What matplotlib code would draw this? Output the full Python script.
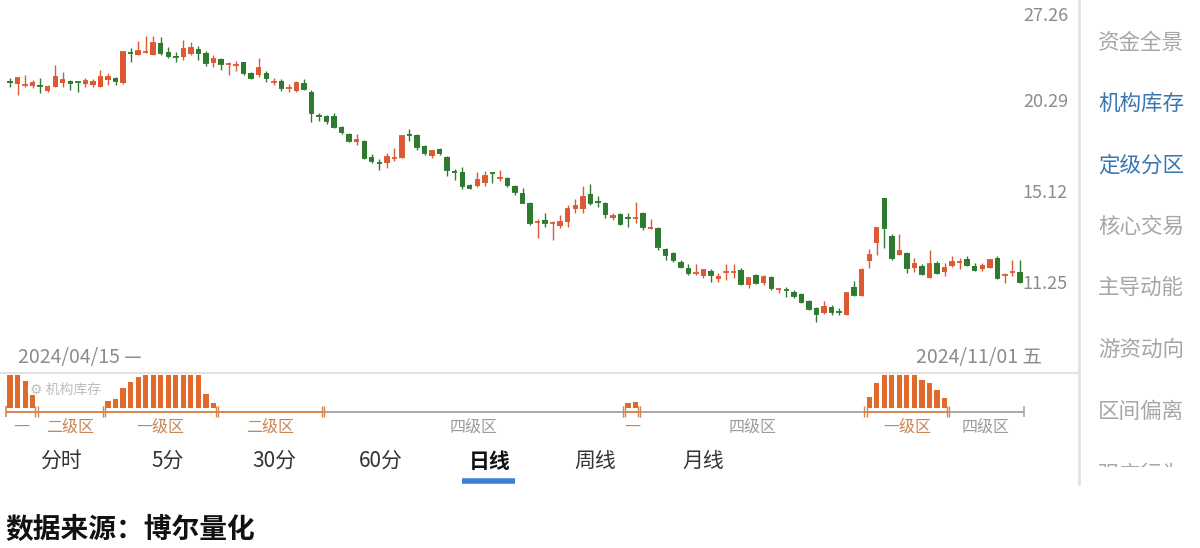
import matplotlib
matplotlib.use("Agg")
import matplotlib.pyplot as plt
from matplotlib.transforms import Bbox, TransformedBbox, blended_transform_factory, offset_copy

plt.rcParams['font.family'] = ['Noto Sans CJK SC', 'DejaVu Sans']

# 日线 2024/04/15 - 2024/11/01
opens = [21.74, 21.53, 21.43, 21.39, 21.43, 21.04, 21.32, 21.60, 21.74, 21.67,
         21.53, 21.46, 21.32, 21.81, 21.96, 21.60, 23.85, 23.66, 23.85, 23.66,
         24.59, 23.89, 23.54, 23.50, 23.73, 24.12, 23.81, 23.05, 23.35, 22.94,
         22.86, 23.12, 22.31, 22.17, 22.31, 21.63, 21.74, 21.22, 21.04, 21.60,
         20.98, 19.45, 19.41, 19.41, 18.72, 18.31, 17.84, 17.89, 16.99, 16.69,
         16.66, 16.90, 16.93, 18.28, 18.25, 17.61, 17.04, 17.44, 16.99, 16.21,
         16.19, 15.52, 15.47, 15.62, 16.16, 15.85, 15.88, 15.47, 15.12, 14.63,
         13.74, 13.85, 13.70, 13.58, 13.76, 14.35, 14.35, 15.07, 14.70, 14.63,
         13.94, 14.12, 13.96, 13.92, 14.17, 13.47, 13.49, 12.60, 12.44, 12.08,
         11.85, 11.64, 11.55, 11.73, 11.44, 11.68, 11.68, 11.77, 11.21, 11.59,
         11.29, 11.51, 11.05, 11.05, 10.96, 10.89, 10.65, 10.41, 10.24, 10.44,
         10.29, 10.17, 11.14, 10.82, 12.12, 12.85, 14.87, 13.14, 12.36, 12.44,
         11.85, 11.93, 11.47, 12.04, 11.70, 11.93, 12.06, 12.20, 11.93, 11.81,
         11.85, 12.24, 11.57, 11.68, 11.70]
highs = [21.96, 21.96, 22.17, 21.81, 21.96, 21.46, 22.90, 22.39, 21.81, 21.74,
         21.96, 21.88, 22.53, 22.31, 22.03, 23.89, 24.20, 24.75, 25.16, 25.16,
         25.08, 24.28, 23.89, 24.83, 24.67, 24.36, 23.96, 23.66, 23.43, 23.12,
         23.20, 23.12, 22.39, 23.43, 22.46, 21.96, 21.88, 21.53, 21.74, 21.88,
         21.11, 19.60, 19.48, 19.60, 18.79, 18.36, 18.31, 17.95, 17.16, 16.88,
         17.21, 17.49, 18.25, 18.60, 18.31, 17.67, 17.38, 17.49, 17.04, 16.34,
         16.45, 15.57, 16.19, 16.24, 16.19, 16.29, 15.93, 15.52, 15.37, 14.68,
         13.90, 14.17, 13.81, 14.08, 14.54, 14.82, 15.47, 15.57, 14.97, 14.68,
         14.17, 14.17, 14.17, 14.68, 14.21, 13.90, 13.54, 12.64, 12.48, 12.16,
         12.00, 12.00, 11.81, 11.81, 11.66, 12.00, 12.00, 11.85, 11.51, 11.62,
         11.59, 11.55, 11.10, 11.14, 11.03, 10.92, 10.68, 10.44, 10.65, 10.51,
         10.41, 10.92, 11.36, 11.85, 12.60, 13.49, 14.87, 13.23, 13.23, 12.48,
         12.24, 12.00, 12.56, 12.12, 12.04, 12.32, 12.24, 12.32, 12.04, 12.04,
         12.20, 12.32, 11.66, 12.16, 12.16]
lows = [21.32, 20.78, 21.32, 21.25, 20.91, 20.98, 21.32, 21.32, 21.11, 20.98,
        21.32, 21.32, 21.32, 21.46, 21.46, 21.53, 23.12, 23.66, 23.81, 23.66,
        23.66, 23.43, 23.12, 23.27, 23.66, 23.27, 22.83, 22.75, 22.53, 22.17,
        22.46, 22.17, 21.88, 22.03, 21.67, 21.46, 21.04, 20.98, 20.98, 21.11,
        19.04, 19.10, 18.91, 18.66, 18.31, 17.84, 17.67, 16.88, 16.66, 16.29,
        16.40, 16.77, 16.93, 17.89, 17.38, 17.10, 16.93, 17.10, 15.98, 15.77,
        15.31, 15.31, 15.42, 15.47, 15.62, 15.72, 15.42, 15.02, 14.63, 13.63,
        13.06, 13.54, 12.97, 13.49, 13.54, 14.17, 14.17, 14.54, 14.44, 13.94,
        13.85, 13.63, 13.54, 13.72, 13.40, 13.45, 12.56, 12.16, 12.08, 11.85,
        11.59, 11.59, 11.47, 11.33, 11.33, 11.40, 11.47, 11.21, 11.10, 11.25,
        11.21, 11.03, 10.92, 10.78, 10.75, 10.58, 10.34, 9.94, 10.21, 10.17,
        10.17, 10.17, 10.82, 10.82, 11.85, 12.36, 12.64, 12.16, 12.36, 11.66,
        11.70, 11.59, 11.47, 11.62, 11.55, 11.89, 11.81, 11.93, 11.73, 11.73,
        11.85, 11.44, 11.29, 11.55, 11.29]
closes = [21.67, 21.96, 21.46, 21.60, 21.39, 21.32, 22.03, 21.81, 21.60, 21.63,
          21.74, 21.67, 22.03, 22.03, 21.74, 23.89, 23.81, 23.96, 23.89, 24.59,
          23.81, 23.58, 23.50, 24.12, 24.20, 23.81, 23.05, 23.35, 22.97, 22.97,
          22.90, 22.31, 21.96, 22.68, 21.96, 21.67, 21.25, 21.25, 21.60, 21.18,
          19.60, 19.41, 19.10, 18.72, 18.42, 17.89, 17.95, 16.93, 16.77, 16.66,
          16.99, 16.93, 18.19, 18.25, 17.55, 17.21, 17.32, 17.21, 16.29, 16.19,
          15.47, 15.37, 15.77, 15.98, 16.14, 15.88, 15.52, 15.16, 14.63, 13.72,
          13.76, 13.72, 13.72, 13.76, 14.35, 14.49, 14.92, 14.63, 14.68, 14.12,
          14.03, 13.67, 13.94, 13.94, 13.54, 13.49, 12.68, 12.36, 12.16, 11.89,
          11.66, 11.66, 11.77, 11.59, 11.51, 11.70, 11.70, 11.25, 11.47, 11.29,
          11.51, 11.10, 11.07, 11.03, 10.82, 10.61, 10.37, 10.21, 10.44, 10.27,
          10.27, 10.92, 10.85, 11.77, 12.36, 13.49, 13.49, 12.24, 12.52, 11.85,
          12.00, 11.62, 12.00, 11.66, 11.85, 12.08, 12.08, 11.97, 11.77, 11.93,
          12.16, 11.47, 11.59, 11.70, 11.33]

price_ticks = [27.26, 20.29, 15.12, 11.25]
start_label = '2024/04/15 —'
end_label = '2024/11/01 五'

# 机构库存 bars (first candle number of each run, then heights 0-100)
inv_start = [1, 14, 83, 115]
inv_values = [[100, 100, 81, 38],
              [20, 26, 59, 77, 92, 100, 100, 100, 100, 100, 100, 100, 100, 41, 15],
              [15, 18],
              [33, 74, 100, 100, 100, 100, 100, 85, 76, 54, 30]]

# 定级分区
zone_start = [1, 5, 14, 29, 43, 83, 85, 115, 126]
zone_end = [4, 13, 28, 42, 82, 84, 114, 125, 135]
zone_names = ['一', '二级区', '一级区', '二级区', '四级区', '一', '四级区', '一级区', '四级区']
zone_level = [1, 2, 1, 2, 4, 1, 4, 1, 4]

tabs = ['分时', '5分', '30分', '60分', '日线', '周线', '月线']
tab_x = [61, 168, 274, 381, 490, 595, 703]
active_tab = '日线'
menu = ['资金全景', '机构库存', '定级分区', '核心交易', '主导动能', '游资动向', '区间偏离', '强庄行为']
menu_y = [43, 104, 166, 227, 288, 350, 412, 475]
menu_active = ['机构库存', '定级分区']
source = '数据来源：博尔量化'

RED = '#dc5a33'
GREEN = '#2e7b30'
BAR = '#e0692b'
ZONE_ORANGE = '#d9844c'
ZONE_GRAY = '#a8a8a8'
LABEL_GRAY = '#8c8c8c'

W, H = 1200, 548
fig = plt.figure(figsize=(W / 100, H / 100), dpi=100)
fig.patch.set_facecolor('white')


def fx(px):
    return px / W


def fy(py):
    return 1 - py / H


n = len(closes)
idx = list(range(1, n + 1))
pitch = 7.537
x_left = 1 - 10 / pitch
xlim = (x_left, x_left + 1078 / pitch)

# ---- K线 ----
ax = fig.add_axes([0, fy(372), fx(1078), 372 / H])
ax.set_yscale('log')
r = (price_ticks[0] / price_ticks[-1]) ** (1 / 3)
row = 91
ax.set_ylim(price_ticks[-1] * r ** (-(372 - 284) / row), price_ticks[-1] * r ** (284 / row))
ax.set_xlim(*xlim)
ax.axis('off')

colors = [RED if c >= o else GREEN for o, c in zip(opens, closes)]
ax.vlines(idx, lows, highs, colors=colors, lw=1.0)
ax.bar(idx, [abs(c - o) for o, c in zip(opens, closes)],
       bottom=[min(o, c) for o, c in zip(opens, closes)],
       width=0.72, color=colors, linewidth=0)
ax.hlines(closes, [i - 0.36 for i in idx], [i + 0.36 for i in idx], colors=colors, lw=1.3)

trans = blended_transform_factory(ax.transAxes, ax.transData)
for k, p in enumerate(price_ticks):
    # the top label sits a little lower, inside the chart
    tr = offset_copy(trans, fig=fig, y=-5, units='dots') if k == 0 else trans
    ax.text(1068 / 1078, p, f'{p:.2f}', transform=tr, ha='right', va='center',
            fontsize=13, color=LABEL_GRAY)

fig.text(fx(18), fy(358), start_label, ha='left', va='center', fontsize=14, color=LABEL_GRAY)
fig.text(fx(1042), fy(358), end_label, ha='right', va='center', fontsize=14, color=LABEL_GRAY)

# ---- 机构库存 / 分区 ----
sub = fig.add_axes([0, fy(445), fx(1078), 73 / H])
sub.set_xlim(*xlim)
unit = 0.335  # px per bar unit


def sy(py):
    return (408 - py) / unit


sub.set_ylim(sy(445), sy(372))
sub.axis('off')

for s, vals in zip(inv_start, inv_values):
    sub.bar(range(s, s + len(vals)), vals, width=0.68, color=BAR, linewidth=0)

fig.text(fx(30), fy(390), '⚙ 机构库存', ha='left', va='center', fontsize=10, color='#bdbdbd')

for k, (s, e, name, lv) in enumerate(zip(zone_start, zone_end, zone_names, zone_level)):
    col = ZONE_ORANGE if lv < 4 else ZONE_GRAY
    sub.hlines(sy(412), s - 0.5, e + 0.5, color=col, lw=1.4)
    sub.text((s + e) / 2, sy(427), name, ha='center', va='center', fontsize=11.5,
             color='#c98552' if lv < 4 else '#9c9c9c')
    # boundary marks
    if k == 0:
        sub.vlines(s - 0.5, sy(417), sy(406), color=col, lw=1.2)
    else:
        prev_lv = zone_level[k - 1]
        tcol = ZONE_ORANGE if min(lv, prev_lv) < 4 else ZONE_GRAY
        sub.vlines([s - 0.65, s - 0.35], sy(417), sy(406), color=tcol, lw=1.0)
    if k == len(zone_start) - 1:
        sub.vlines(e + 0.5, sy(417), sy(406), color=col, lw=1.2)

# separators
fig.add_artist(plt.Line2D([0, fx(1078)], [fy(373), fy(373)], color='#e2e2e2', lw=1.5))
fig.add_artist(plt.Line2D([fx(1079), fx(1079)], [fy(0), fy(484)], color='#e2e2e2', lw=2))

# ---- tabs ----
for name, x in zip(tabs, tab_x):
    act = name == active_tab
    fig.text(fx(x), fy(461), name, ha='center', va='center', fontsize=15,
             color='#111111' if act else '#333333', fontweight='bold' if act else 'normal')
fig.add_artist(plt.Line2D([fx(462), fx(515)], [fy(481), fy(481)], color='#3d7fd9', lw=4,
                          solid_capstyle='butt'))

# ---- right menu ----
clip = TransformedBbox(Bbox.from_extents(fx(1080), fy(467), 1, 1), fig.transFigure)
for name, y in zip(menu, menu_y):
    t = fig.text(fx(1141), fy(y), name, ha='center', va='center', fontsize=15.5,
                 color='#3a75b0' if name in menu_active else '#a6a6a6')
    t.set_clip_box(clip)
    t.set_clip_on(True)

fig.text(fx(5), fy(530), source, ha='left', va='center', fontsize=20, fontweight='bold',
         color='#111111')

fig.savefig('out.png', dpi=100, facecolor='white')
